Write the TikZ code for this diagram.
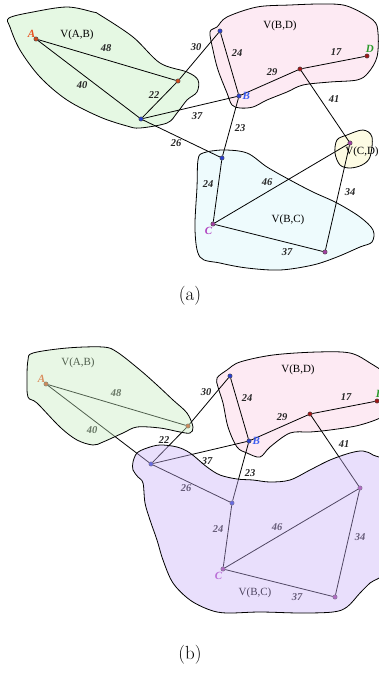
\documentclass[tikz,border=0pt]{standalone}
\usepackage{fontspec}
\newfontfamily\tmsfont{Liberation Serif}
\usetikzlibrary{positioning}

\definecolor{siteA}{HTML}{D04A1C}
\definecolor{siteB}{HTML}{2A40D0}
\definecolor{siteD}{HTML}{A01818}
\definecolor{siteC}{HTML}{A040A0}
\definecolor{labA}{HTML}{E8501E}
\definecolor{labB}{HTML}{3A5CF0}
\definecolor{labC}{HTML}{B040C0}
\definecolor{labD}{HTML}{2A9A2A}
\definecolor{regAB}{HTML}{E5F8E3}
\definecolor{regBD}{HTML}{FDEAF3}
\definecolor{regBC}{HTML}{EEFBFD}
\definecolor{regCD}{HTML}{FDFBE3}
\definecolor{ovAB}{HTML}{C6ECBF}
\definecolor{ovBC}{HTML}{C8AFF7}

% the shortest-path graph, drawn once per panel
\newcommand{\pathgraph}{%
  \node[vtx, fill=siteA] (A) at (36,39) {};
  \node[vtx, fill=siteA] (P) at (178,81) {};
  \node[vtx, fill=siteB] (H) at (141,119) {};
  \node[vtx, fill=siteB] (T) at (220,31) {};
  \node[vtx, fill=siteB] (B) at (239,96) {};
  \node[vtx, fill=siteD] (R) at (300,69) {};
  \node[vtx, fill=siteD] (D) at (367,56) {};
  \node[vtx, fill=siteC] (Q) at (350,143) {};
  \node[vtx, fill=siteB] (S) at (222,158) {};
  \node[vtx, fill=siteC] (C) at (213,224) {};
  \node[vtx, fill=siteC] (E) at (325,252) {};
  \draw[edge] (A) -- (P);
  \draw[edge] (A) -- (H);
  \draw[edge] (H) -- (P);
  \draw[edge] (P) -- (T);
  \draw[edge] (H) -- (B);
  \draw[edge] (H) -- (S);
  \draw[edge] (T) -- (B);
  \draw[edge] (B) -- (R);
  \draw[edge] (R) -- (D);
  \draw[edge] (R) -- (Q);
  \draw[edge] (B) -- (S);
  \draw[edge] (S) -- (C);
  \draw[edge] (C) -- (Q);
  \draw[edge] (C) -- (E);
  \draw[edge] (E) -- (Q);
  \node[wt] (w48) at (106,48) {48};
  \node[wt] (w40) at (82,85) {40};
  \node[wt] (w22) at (154,95) {22};
  \node[wt] (w30) at (196,47) {30};
  \node[wt] (w37a) at (197,116) {37};
  \node[wt] (w26) at (176,143) {26};
  \node[wt] (w24a) at (237,53) {24};
  \node[wt] (w29) at (272,72) {29};
  \node[wt] (w17) at (336,52) {17};
  \node[wt] (w41) at (334,99) {41};
  \node[wt] (w23) at (240,128) {23};
  \node[wt] (w24b) at (208,184) {24};
  \node[wt] (w46) at (267,182) {46};
  \node[wt] (w34) at (350,192) {34};
  \node[wt] (w37b) at (287,252) {37};
  \node[site, text=labA, above left=0pt and -1pt of A] (nA) {A};
  \node[site, text=labB, right=1pt of B] (nB) {B};
  \node[site, text=labC, below left=1pt and -1pt of C] (nC) {C};
  \node[site, text=labD, above right=2pt and -3pt of D] (nD) {D};
}

\begin{document}
\begin{tikzpicture}[
  x=1pt, y=-1pt,
  vtx/.style={circle, draw=black!70, line width=0.4pt, inner sep=0pt, minimum size=4.4pt},
  edge/.style={line width=0.8pt, black},
  wt/.style={font=\tmsfont\bfseries\itshape\fontsize{10.5}{12}\selectfont, text=black!85, inner sep=0pt},
  site/.style={font=\tmsfont\bfseries\itshape\fontsize{11}{12}\selectfont, inner sep=0pt},
  rname/.style={font=\tmsfont\fontsize{11}{12}\selectfont, inner sep=0pt},
  region/.style={draw=black, line width=0.8pt},
  capt/.style={font=\fontsize{19}{21}\selectfont, inner sep=0pt}
]
\useasboundingbox (0,0) rectangle (379,673);
\clip (0,0) rectangle (379,673);

% (a)
\begin{scope}[name prefix=a-]
  \draw[region, fill=regAB] plot[smooth cycle, tension=0.55] coordinates {(9,18) (33,12) (67,7) (93,12) (100,15) (133,37) (160,63) (187,72) (198,80) (197,92) (187,100) (177,113) (167,123) (140,128) (127,126) (100,117) (67,100) (40,77) (20,50) (10,27)};
  \draw[region, fill=regBD] plot[smooth cycle, tension=0.55] coordinates {(210,32) (217,27) (227,17) (257,7) (290,5) (323,4) (347,6) (373,20) (378,33) (377,57) (368,73) (357,80) (330,82) (303,85) (287,92) (267,100) (253,107) (240,108) (232,105) (227,93) (218,70) (213,50)};
  \draw[region, fill=regBC] plot[smooth cycle, tension=0.55] coordinates {(203,153) (223,150) (247,153) (267,167) (290,180) (313,192) (337,203) (360,217) (373,230) (372,242) (360,247) (337,257) (313,265) (280,270) (247,268) (220,263) (200,257) (195,230) (197,187) (198,160)};
  \draw[region, fill=regCD] plot[smooth cycle, tension=0.55] coordinates {(337,140) (347,135) (363,130) (372,137) (370,157) (362,165) (350,168) (340,165) (335,153)};
  \node[rname] (vab) at (77,35) {V(A,B)};
  \node[rname] (vbd) at (280,26) {V(B,D)};
  \node[rname] (vbc) at (288,220) {V(B,C)};
  \node[rname] (vcd) at (362,152) {V(C,D)};
  \pathgraph
  \node[capt] (capa) at (190,296) {(a)};
\end{scope}

% (b)
\draw[region, fill=regBD] plot[smooth cycle, tension=0.55] coordinates {(217,378) (227,370) (240,362) (273,355) (317,352) (350,353) (370,363) (385,375) (390,400) (385,415) (360,425) (330,430) (310,432) (290,433) (270,447) (260,457) (247,453) (237,447) (228,427) (223,403) (218,387)};
\node[rname] (b-vab) at (78,363) {V(A,B)};
\node[rname] (b-vbd) at (298,370) {V(B,D)};
\node[rname] (b-vbc) at (255,593) {V(B,C)};
\begin{scope}[name prefix=b-, shift={(10,345)}]
  \pathgraph
\end{scope}
% merged cell and V(A,B) laid over the graph
\draw[region, fill=ovAB, fill opacity=0.4] plot[smooth cycle, tension=0.55] coordinates {(28,360) (33,353) (67,348) (103,347) (117,352) (140,370) (157,385) (173,400) (187,413) (193,427) (190,433) (180,432) (160,428) (137,427) (123,433) (103,442) (93,445) (77,440) (60,427) (37,403) (28,397) (27,378)};
\draw[region, fill=ovBC, fill opacity=0.4] plot[smooth cycle, tension=0.55] coordinates {(133,462) (137,453) (147,448) (160,445) (177,447) (190,453) (207,467) (220,475) (237,479) (253,480) (270,482) (290,480) (310,470) (330,460) (350,453) (363,451) (373,455) (385,465) (390,520) (385,570) (370,583) (360,593) (347,607) (333,612) (300,613) (260,612) (227,613) (210,610) (190,600) (173,583) (163,560) (157,540) (150,520) (145,503) (143,483) (138,477) (133,470)};
\node[capt] (capb) at (190,655) {(b)};
\end{tikzpicture}
\end{document}
